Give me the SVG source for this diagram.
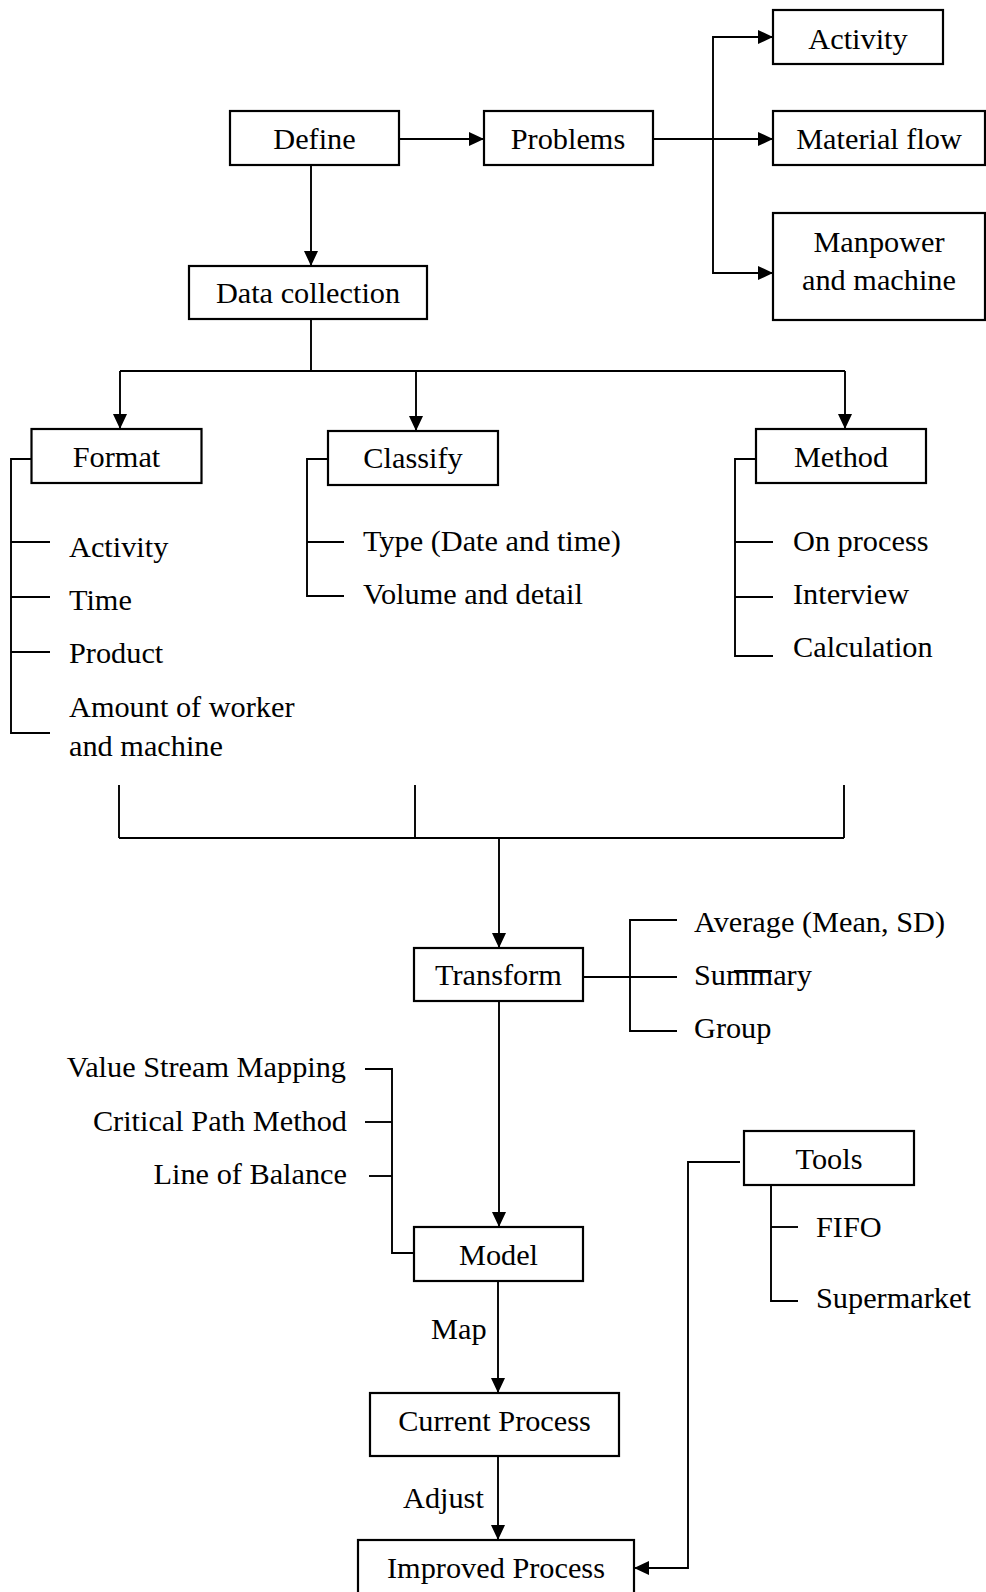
<svg xmlns="http://www.w3.org/2000/svg" width="986" height="1592" viewBox="0 0 986 1592">
  <defs>
    <marker id="arrow" markerUnits="userSpaceOnUse" markerWidth="15" markerHeight="14" refX="15" refY="7" orient="auto">
      <path d="M0,0 L15,7 L0,14 z" fill="#000"/>
    </marker>
    <style>
      .box { fill: #fff; stroke: #000; stroke-width: 2.2; }
      .ln { fill: none; stroke: #000; stroke-width: 1.9; }
      .arr { fill: none; stroke: #000; stroke-width: 1.9; marker-end: url(#arrow); }
      text { font-family: "Liberation Serif", "Times New Roman", serif; font-size: 30.3px; fill: #000; }
      .c { text-anchor: middle; }
      .r { text-anchor: end; }
    </style>
  </defs>
  <rect width="986" height="1592" fill="#fff"/>

  <!-- connectors -->
  <g id="connectors">
    <!-- Define -> Problems, Define -> Data collection -->
    <line class="arr" x1="399" y1="139" x2="484" y2="139"/>
    <line class="arr" x1="311" y1="165" x2="311" y2="266"/>
    <!-- Problems fan-out -->
    <line class="ln" x1="653" y1="139" x2="713" y2="139"/>
    <path class="arr" d="M713,139 L713,37 L773,37"/>
    <line class="arr" x1="713" y1="139" x2="773" y2="139"/>
    <path class="arr" d="M713,139 L713,273 L773,273"/>
    <!-- Data collection fan-out -->
    <line class="ln" x1="311" y1="319" x2="311" y2="371"/>
    <line class="ln" x1="120" y1="371" x2="845" y2="371"/>
    <line class="arr" x1="120" y1="371" x2="120" y2="429"/>
    <line class="arr" x1="416" y1="371" x2="416" y2="431"/>
    <line class="arr" x1="845" y1="371" x2="845" y2="429"/>
    <!-- Format bracket -->
    <path class="ln" d="M31,459 L11,459 L11,733 L50,733"/>
    <line class="ln" x1="11" y1="542" x2="50" y2="542"/>
    <line class="ln" x1="11" y1="597" x2="50" y2="597"/>
    <line class="ln" x1="11" y1="652" x2="50" y2="652"/>
    <!-- Classify bracket -->
    <path class="ln" d="M328,459 L307,459 L307,596 L344,596"/>
    <line class="ln" x1="307" y1="542" x2="344" y2="542"/>
    <!-- Method bracket -->
    <path class="ln" d="M756,459 L735,459 L735,656 L773,656"/>
    <line class="ln" x1="735" y1="542" x2="773" y2="542"/>
    <line class="ln" x1="735" y1="597" x2="773" y2="597"/>
    <!-- merge into Transform -->
    <line class="ln" x1="119" y1="785" x2="119" y2="838"/>
    <line class="ln" x1="415" y1="785" x2="415" y2="838"/>
    <line class="ln" x1="844" y1="785" x2="844" y2="838"/>
    <line class="ln" x1="119" y1="838" x2="844" y2="838"/>
    <line class="arr" x1="499" y1="838" x2="499" y2="948"/>
    <!-- Transform bracket -->
    <line class="ln" x1="583" y1="977" x2="677" y2="977"/>
    <path class="ln" d="M677,920 L630,920 L630,1031 L677,1031"/>
    <line class="ln" x1="734" y1="971" x2="772" y2="971" stroke-width="1.3"/>
    <!-- Transform -> Model -->
    <line class="arr" x1="499" y1="1001" x2="499" y2="1227"/>
    <!-- Model bracket -->
    <path class="ln" d="M365,1069 L392,1069 L392,1253 L414,1253"/>
    <line class="ln" x1="365" y1="1122" x2="392" y2="1122"/>
    <line class="ln" x1="369" y1="1176" x2="392" y2="1176"/>
    <!-- Model -> Current -> Improved -->
    <line class="arr" x1="498" y1="1281" x2="498" y2="1393"/>
    <line class="arr" x1="498" y1="1456" x2="498" y2="1540"/>
    <!-- Tools -->
    <path class="arr" d="M740,1162 L688,1162 L688,1568 L634,1568"/>
    <path class="ln" d="M771,1185 L771,1301 L798,1301"/>
    <line class="ln" x1="771" y1="1227" x2="798" y2="1227"/>
  </g>

  <g id="define"><rect class="box" x="230" y="111" width="169" height="54"/><text class="c" x="314.5" y="149">Define</text></g>
  <g id="problems"><rect class="box" x="484" y="111" width="169" height="54"/><text class="c" x="568" y="149">Problems</text></g>
  <g id="activity"><rect class="box" x="773" y="10" width="170" height="54"/><text class="c" x="858" y="49">Activity</text></g>
  <g id="material-flow"><rect class="box" x="773" y="111" width="212" height="54"/><text class="c" x="879" y="149">Material flow</text></g>
  <g id="manpower"><rect class="box" x="773" y="213" width="212" height="107"/><text class="c" x="879" y="252">Manpower</text><text class="c" x="879" y="290">and machine</text></g>
  <g id="data-collection"><rect class="box" x="189" y="266" width="238" height="53"/><text class="c" x="308" y="303">Data collection</text></g>

  <g id="format">
    <rect class="box" x="31.5" y="429" width="170" height="54"/><text class="c" x="116.5" y="467">Format</text>
    <text x="69" y="557">Activity</text>
    <text x="69" y="610">Time</text>
    <text x="69" y="663">Product</text>
    <text x="69" y="717">Amount of worker</text>
    <text x="69" y="756">and machine</text>
  </g>
  <g id="classify">
    <rect class="box" x="328" y="431" width="170" height="54"/><text class="c" x="413" y="468">Classify</text>
    <text x="363" y="551">Type (Date and time)</text>
    <text x="363" y="604">Volume and detail</text>
  </g>
  <g id="method">
    <rect class="box" x="756" y="429" width="170" height="54"/><text class="c" x="841" y="467">Method</text>
    <text x="793" y="551">On process</text>
    <text x="793" y="604">Interview</text>
    <text x="793" y="657">Calculation</text>
  </g>

  <g id="transform">
    <rect class="box" x="414" y="948" width="169" height="53"/><text class="c" x="498.5" y="985">Transform</text>
    <text x="694" y="932">Average (Mean, SD)</text>
    <text x="694" y="985">Summary</text>
    <text x="694" y="1038">Group</text>
  </g>

  <g id="model">
    <rect class="box" x="414" y="1227" width="169" height="54"/><text class="c" x="498.5" y="1265">Model</text>
    <text class="r" x="346" y="1077">Value Stream Mapping</text>
    <text class="r" x="347" y="1131">Critical Path Method</text>
    <text class="r" x="347" y="1184">Line of Balance</text>
  </g>

  <g id="tools">
    <rect class="box" x="744" y="1131" width="170" height="54"/><text class="c" x="829" y="1169">Tools</text>
    <text x="816" y="1237">FIFO</text>
    <text x="816" y="1308">Supermarket</text>
  </g>

  <g id="labels">
    <text x="431" y="1339">Map</text>
    <text x="403" y="1508">Adjust</text>
  </g>

  <g id="current-process"><rect class="box" x="370" y="1393" width="249" height="63"/><text class="c" x="494.5" y="1431">Current Process</text></g>
  <g id="improved-process"><rect class="box" x="358" y="1540" width="276" height="70"/><text class="c" x="496" y="1578">Improved Process</text></g>
</svg>
